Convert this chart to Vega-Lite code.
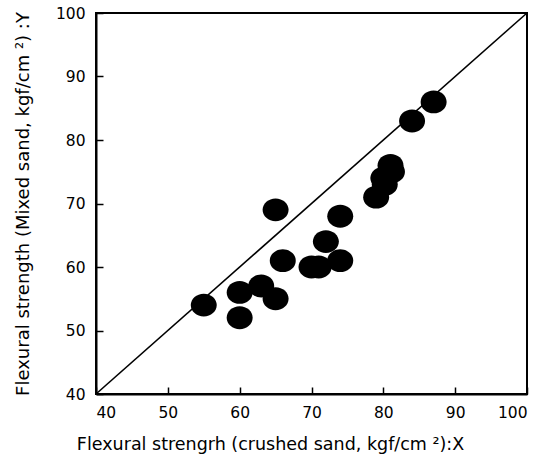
{
  "$schema": "https://vega.github.io/schema/vega-lite/v6.json",
  "width": 431,
  "height": 381,
  "autosize": {"type": "none"},
  "padding": {"left": 96, "top": 13, "right": 18, "bottom": 65},
  "background": "white",
  "config": {
    "view": {"stroke": "black", "strokeWidth": 2},
    "font": "DejaVu Sans"
  },
  "datasets": {
    "pts": [
      {"x": 55, "y": 54},
      {"x": 60, "y": 56},
      {"x": 60, "y": 52},
      {"x": 63, "y": 57},
      {"x": 65, "y": 55},
      {"x": 65, "y": 69},
      {"x": 66, "y": 61},
      {"x": 70, "y": 60},
      {"x": 71, "y": 60},
      {"x": 72, "y": 64},
      {"x": 74, "y": 68},
      {"x": 74, "y": 61},
      {"x": 79, "y": 71},
      {"x": 80, "y": 74},
      {"x": 80.2, "y": 73},
      {"x": 81, "y": 76},
      {"x": 81.2, "y": 75},
      {"x": 84, "y": 83},
      {"x": 87, "y": 86}
    ],
    "diag": [
      {"x": 40, "y": 40},
      {"x": 100, "y": 100}
    ]
  },
  "layer": [
    {
      "data": {"name": "diag"},
      "mark": {"type": "line", "color": "black", "strokeWidth": 1.6},
      "encoding": {
        "x": {
          "field": "x", "type": "quantitative",
          "scale": {"domain": [40, 100], "nice": false, "zero": false},
          "axis": {
            "title": "Flexural strengrh (crushed sand, kgf/cm ²):X",
            "values": [40, 50, 60, 70, 80, 90, 100],
            "grid": false,
            "domainColor": "black", "domainWidth": 2,
            "tickColor": "black", "tickSize": -7, "tickWidth": 1.5,
            "labelColor": "black", "labelFontSize": 15.5, "labelPadding": 18,
            "labelFont": "DejaVu Sans",
            "titleColor": "black", "titleFontSize": 17.5, "titleFontWeight": "normal",
            "titleFont": "DejaVu Sans", "titlePadding": 15, "titleX": 174
          }
        },
        "y": {
          "field": "y", "type": "quantitative",
          "scale": {"domain": [40, 100], "nice": false, "zero": false},
          "axis": {
            "title": "Flexural strength (Mixed sand, kgf/cm ²) :Y",
            "values": [40, 50, 60, 70, 80, 90, 100],
            "grid": false,
            "domainColor": "black", "domainWidth": 2,
            "tickColor": "black", "tickSize": -7, "tickWidth": 1.5,
            "labelColor": "black", "labelFontSize": 15.5, "labelPadding": 18,
            "labelFont": "DejaVu Sans",
            "titleColor": "black", "titleFontSize": 18, "titleFontWeight": "normal",
            "titleFont": "DejaVu Sans", "titlePadding": 23
          }
        }
      }
    },
    {
      "data": {"name": "pts"},
      "mark": {
        "type": "point",
        "filled": true,
        "color": "black",
        "opacity": 1,
        "shape": "M-1,0A1,0.88,0,1,0,1,0A1,0.88,0,1,0,-1,0Z",
        "size": 676
      },
      "encoding": {
        "x": {"field": "x", "type": "quantitative"},
        "y": {"field": "y", "type": "quantitative"}
      }
    }
  ]
}
